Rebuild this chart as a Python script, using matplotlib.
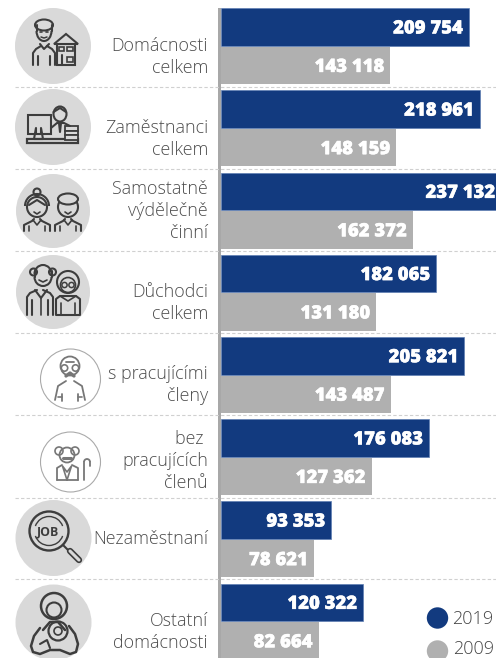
import numpy as np
import matplotlib
matplotlib.use('Agg')
import matplotlib.pyplot as plt
import matplotlib.patheffects as pe
from matplotlib.patches import Circle, Rectangle, Arc, Polygon, Ellipse

W, H = 496, 658
NAVY = '#123a7f'
GREY = '#b0b0b0'
INK = '#3d3d3d'
DISC = '#d9d9d9'

labels = ['Domácnosti\ncelkem', 'Zaměstnanci\ncelkem', 'Samostatně\nvýdělečně\nčinní',
          'Důchodci\ncelkem', 's pracujícími\nčleny', 'bez \npracujících\nčlenů',
          'Nezaměstnaní', 'Ostatní\ndomácnosti']
values_2019 = [209754, 218961, 237132, 182065, 205821, 176083, 93353, 120322]
values_2009 = [143118, 148159, 162372, 131180, 143487, 127362, 78621, 82664]
legend_years = ['2019', '2009']


def fmt(v):
    return f'{v:,}'.replace(',', ' ')


plt.rcParams['font.family'] = ['Open Sans', 'DejaVu Sans']
fig = plt.figure(figsize=(W / 100, H / 100), dpi=100)

# overlay in pixel coordinates for icons, labels and separators
bg = fig.add_axes([0, 0, 1, 1])
bg.set_xlim(0, W)
bg.set_ylim(H, 0)
bg.axis('off')

# bar axes: x from 221 px to the right edge, one unit per row
ax = fig.add_axes([221 / W, 0, (W - 221) / W, 1])
ax.patch.set_alpha(0)
ax.set_xlim(0, 232650)
ax.set_ylim((H - 9) / 82.2, -9 / 82.2)
ax.axis('off')

y = np.arange(len(labels))
ax.barh(y + 0.219, values_2019, height=0.456, color=NAVY, edgecolor='#5f7fb3', linewidth=0.5)
ax.barh(y + 0.687, values_2009, height=0.456, color=GREY)
thick = [pe.withStroke(linewidth=0.3, foreground='white')]
for i in y:
    for vals, off in [(values_2019, 0.219), (values_2009, 0.687)]:
        ax.annotate(fmt(vals[i]), (vals[i], i + off), xytext=(-4.3, 0),
                    textcoords='offset points', ha='right', va='center_baseline', color='white',
                    fontsize=13.3, fontweight='heavy', path_effects=thick, annotation_clip=False)

bg.add_patch(Rectangle((218, 8), 3, H - 8, color='#a8a8a8', lw=0))

for sy in [87, 168.5, 251, 333, 415, 498, 579]:
    bg.plot([15, W], [sy, sy], color='#d0d0d0', lw=0.8, dashes=(3, 2))

label_y = [57, 139, 211, 303, 385, 461, 539, 632]
for text, ly in zip(labels, label_y):
    bg.text(208, ly, text, ha='right', va='center', fontsize=12.9, color='#4d4d4d',
            linespacing=1.32, fontweight='light')


def line(xs, ys, lw=1.5, c=INK):
    bg.plot(xs, ys, color=c, lw=lw, solid_capstyle='round', solid_joinstyle='round')


def ring(x, y, r, lw=1.5, c=INK, fill='none'):
    bg.add_patch(Circle((x, y), r, fc=fill, ec=c, lw=lw))


def face(x, y, w, h, lw=1.5, c=INK):
    # chin arc and sides, hair is drawn by the caller
    bg.add_patch(Arc((x, y), w, h, theta1=0, theta2=180, color=c, lw=lw))
    line([x - w / 2, x - w / 2], [y - 6, y], lw, c)
    line([x + w / 2, x + w / 2], [y - 6, y], lw, c)


def torso(x, y, w, bottom, lw=1.5, c=INK):
    # sloped shoulders and the inner arm lines
    line([x - w, x - w, x - w + 3, x - 3], [bottom, y + 7, y + 3, y], lw, c)
    line([x + w, x + w, x + w - 3, x + 3], [bottom, y + 7, y + 3, y], lw, c)
    line([x - w + 5, x - w + 5], [y + 10, bottom], lw, c)
    line([x + w - 5, x + w - 5], [y + 10, bottom], lw, c)


discs = [(53, 46, 38), (53, 127, 38), (53, 211, 37), (53, 292, 37), (53.5, 538, 38), (53.5, 622.5, 38)]
for cx, cy, r in discs:
    bg.add_patch(Circle((cx, cy), r, fc=DISC, ec='none'))
for cy in [379, 462]:
    bg.add_patch(Circle((70.5, cy), 30, fc='white', ec='#aaaaaa', lw=0.8))

# person and house
face(44, 31, 15, 20)
bg.add_patch(Ellipse((44, 25), 18, 11, fc=DISC, ec=INK, lw=1.5))
line([40, 42], [32, 32], 1.2)
line([46, 48], [32, 32], 1.2)
line([41, 44, 47], [37, 38, 37], 1.1)
line([40, 44, 49], [44, 49, 44])
torso(44, 46, 11, 65)
bg.add_patch(Polygon([[57, 65], [57, 44], [75, 44], [75, 65]], fc=DISC, ec=INK, lw=1.5))
bg.add_patch(Polygon([[54, 44], [66, 34], [78, 44]], fc=DISC, ec=INK, lw=1.5))
bg.add_patch(Rectangle((59, 47), 5, 4, fc='none', ec=INK, lw=1.2))
bg.add_patch(Rectangle((67, 47), 6, 4, fc='none', ec=INK, lw=1.2))
bg.add_patch(Rectangle((67, 57), 6, 5, fc='none', ec=INK, lw=1.2))
line([62, 62], [55, 65])

# clerk at a computer
bg.add_patch(Rectangle((27, 139), 51, 4, fc='none', ec=INK, lw=1.6))
bg.add_patch(Rectangle((27.5, 115), 23, 19, fc=DISC, ec=INK, lw=1.5))
line([36, 36, 34, 43, 41, 41], [134, 128, 139, 139, 128, 134])
bg.add_patch(Ellipse((60, 114), 13, 15, fc=DISC, ec=INK, lw=1.5))
line([53.5, 60, 66], [112, 108, 112])
line([51, 57, 64, 70], [128, 123, 123, 126])
line([59, 60, 61], [123, 132, 123])
for by in [126, 130.5, 135]:
    bg.add_patch(Rectangle((65, by), 13, 4.5, fc=DISC, ec=INK, lw=1.3))

# self employed couple
for x0 in [37, 68]:
    ring(x0, 207, 10)
    line([x0 - 3, x0, x0 + 3], [212, 214, 212], lw=1.2)
    line([x0 - 4, x0, x0 + 4], [220, 225, 220], lw=1.2)
    line([x0 - 13, x0 - 13, x0 - 5, x0 - 3], [231, 225, 221, 219])
    line([x0 + 13, x0 + 13, x0 + 5, x0 + 3], [231, 225, 221, 219])
    line([x0 - 8, x0 - 8], [226, 231], 1.2)
    line([x0 + 8, x0 + 8], [226, 231], 1.2)
# her hair and bun, his quiff
ring(37, 192, 3.5)
bg.add_patch(Arc((37, 206), 24, 24, theta1=180, theta2=360, color=INK, lw=1.5))
line([29, 37, 45], [205, 200, 205])
bg.add_patch(Ellipse((68, 199), 20, 11, fc=DISC, ec=INK, lw=1.5))

# pensioners: he stands behind her
ring(33.5, 272, 3.5)
ring(52.5, 272, 3.5)
face(43, 277, 17, 18)
bg.add_patch(Arc((43, 274), 17, 18, theta1=180, theta2=360, color=INK, lw=1.5))
line([39, 43, 47], [280, 282, 280], 1.2)
torso(40, 290, 13, 315)
line([35, 41, 47], [290, 298, 290])
line([41, 41], [298, 315], 1.2)
bg.add_patch(Circle((68, 282), 11, fc=DISC, ec=INK, lw=1.5))
ring(68, 285, 7.5, lw=1.2)
ring(64.5, 285, 2.6, lw=1.1)
ring(71.5, 285, 2.6, lw=1.1)
bg.add_patch(Polygon([[56, 315], [56, 299], [60, 296], [76, 296], [80, 299], [80, 315]],
                     fc=DISC, ec=INK, lw=1.5, joinstyle='round'))
line([60, 68, 76], [296, 301, 296], 1.2)
line([61, 61], [303, 315], 1.2)
line([75, 75], [303, 315], 1.2)

# grandfather with glasses
G = '#777777'
ring(70, 366, 9.5, lw=1.3, c=G)
ring(64.5, 368, 3.2, lw=1.2, c=G)
ring(75.5, 368, 3.2, lw=1.2, c=G)
line([66, 70, 74], [376, 373, 376], 2.4, G)
line([66, 74], [362, 362], 1.3, G)
line([55, 58, 66], [400, 386, 381], 1.3, G)
line([85, 82, 74], [400, 386, 381], 1.3, G)
line([62, 62], [394, 401], 1.3, G)
line([78, 78], [394, 401], 1.3, G)
line([58, 62], [397, 397], 1.2, G)
line([78, 82], [397, 397], 1.2, G)

# grandfather with a cane
ring(67, 455, 7.5, lw=1.3, c=G)
ring(59, 451, 4, lw=1.2, c=G)
ring(75, 451, 4, lw=1.2, c=G)
line([63, 71], [458, 458], 2.2, G)
line([57, 57, 62], [480, 468, 465], 1.3, G)
line([72, 78, 78], [465, 468, 480], 1.3, G)
line([57, 78], [480, 480], 1.3, G)
line([67, 62.5, 67, 71.5, 67], [480, 466, 472, 466, 480], 1.2, G)
line([84, 84], [480, 462], 1.3, G)
bg.add_patch(Arc((87, 462), 6, 6, theta1=180, theta2=360, color=G, lw=1.3))
line([90, 90], [462, 466], 1.3, G)

# job search
ring(49, 531, 19.5, lw=1.7)
bg.add_patch(Arc((49, 531), 29, 29, theta1=200, theta2=340, color=INK, lw=1.0))
bg.add_patch(Arc((49, 531), 29, 29, theta1=20, theta2=160, color=INK, lw=1.0))
bg.text(48.5, 531.5, 'JOB', ha='center', va='center', fontsize=8.8, fontweight='bold', color=INK)
line([63, 68], [545, 550], 1.5)
bg.plot([70, 79], [551, 560], color=INK, lw=4.6, solid_capstyle='round')
bg.plot([70, 79], [551, 560], color=DISC, lw=2.2, solid_capstyle='round')

# mother with baby
ring(54, 606, 13, lw=1.8)
ring(54, 610, 7.5, lw=1.5, fill=DISC)
line([40, 34, 31, 33, 40, 50, 60, 70, 76, 78, 75, 69], [628, 636, 646, 652, 654, 650, 650, 654, 652, 644, 634, 626], 1.8)
line([43, 50, 58, 65], [630, 622, 622, 630], 1.8)
ring(58, 631, 9.5, lw=1.6, fill=DISC)
ring(58, 631, 4, lw=1.2)
line([40, 47, 50], [644, 640, 648], 1.5)

# legend
for (ly, col, yr, tx, ty) in [(618, NAVY, legend_years[0], 452, 618.5), (651, GREY, legend_years[1], 453, 649.5)]:
    bg.add_patch(Circle((437.5, ly), 10.7, fc=col, ec='none'))
    bg.text(tx, ty, yr, ha='left', va='center', fontsize=13, color='#444444', fontweight='light')

fig.savefig('out.png', dpi=100)
